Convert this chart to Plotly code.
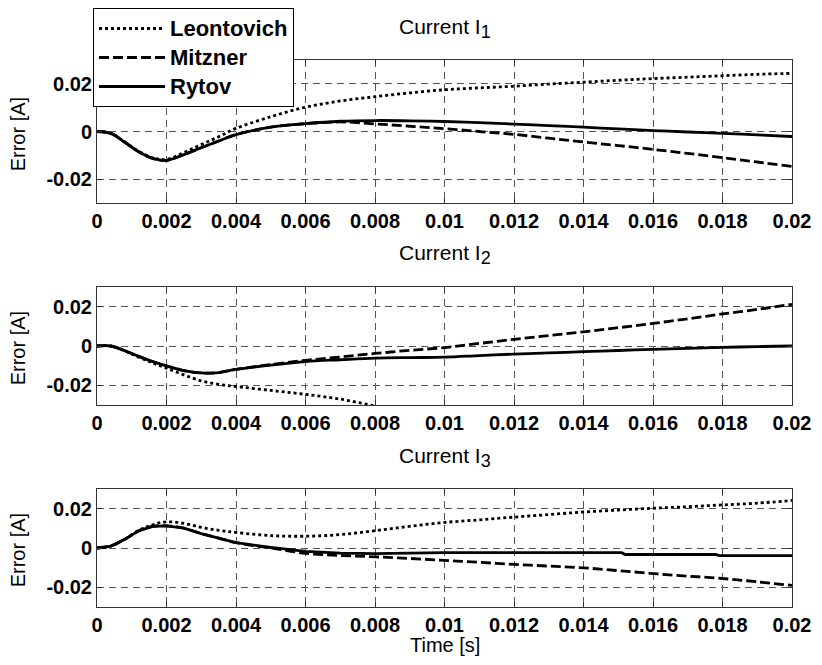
import plotly.graph_objects as go

# ---------------- data ----------------
T = [0, 0.0004, 0.0008, 0.0012, 0.0016, 0.002, 0.0025, 0.003, 0.0035, 0.004,
     0.005, 0.006, 0.007, 0.008, 0.009, 0.010, 0.011, 0.012, 0.013, 0.014,
     0.015, 0.016, 0.017, 0.018, 0.019, 0.020]

I1_leontovich = [0, -0.0008, -0.0044, -0.0083, -0.0110, -0.0117, -0.0088, -0.0055, -0.0022, 0.0013,
                 0.0062, 0.0102, 0.0128, 0.0146, 0.0162, 0.0175, 0.0183, 0.0190, 0.0199, 0.0207,
                 0.0215, 0.0222, 0.0228, 0.0234, 0.0240, 0.0244]
I1_mitzner = [0, -0.0008, -0.0045, -0.0085, -0.0113, -0.0121, -0.0097, -0.0068, -0.0040, -0.0013,
              0.0018, 0.0033, 0.0040, 0.0032, 0.0022, 0.0012, 0.0000, -0.0012, -0.0028, -0.0044,
              -0.0059, -0.0075, -0.0092, -0.0110, -0.0128, -0.0147]
I1_rytov = [0, -0.0008, -0.0045, -0.0085, -0.0113, -0.0121, -0.0097, -0.0068, -0.0040, -0.0013,
            0.0018, 0.0033, 0.0043, 0.0046, 0.0045, 0.0042, 0.0037, 0.0031, 0.0025, 0.0018,
            0.0011, 0.0004, -0.0002, -0.0008, -0.0014, -0.0021]

T2_leontovich = [0, 0.0004, 0.0008, 0.0012, 0.0016, 0.002, 0.0025, 0.003, 0.0035, 0.004,
                 0.005, 0.006, 0.007, 0.008]
I2_leontovich = [0, 0.0, -0.0025, -0.0057, -0.0086, -0.0113, -0.0147, -0.0177, -0.0195, -0.0206,
                 -0.0226, -0.0246, -0.0270, -0.0305]
I2_mitzner = [0, 0.0, -0.0024, -0.0053, -0.0079, -0.0101, -0.0125, -0.0137, -0.0135, -0.0119,
              -0.0094, -0.0073, -0.0056, -0.0038, -0.0022, -0.0008, 0.0013, 0.0034, 0.0053, 0.0072,
              0.0093, 0.0115, 0.0138, 0.0163, 0.0186, 0.0212]
I2_rytov = [0, 0.0, -0.0024, -0.0053, -0.0079, -0.0101, -0.0125, -0.0137, -0.0135, -0.0119,
            -0.0097, -0.0079, -0.0070, -0.0062, -0.0059, -0.0057, -0.0049, -0.0041, -0.0035, -0.0029,
            -0.0023, -0.0017, -0.0012, -0.0007, -0.0003, 0.0]

I3_leontovich = [0, 0.0010, 0.0045, 0.0090, 0.0118, 0.0133, 0.0125, 0.0105, 0.0090, 0.0079,
                 0.0063, 0.0060, 0.0068, 0.0088, 0.0110, 0.0130, 0.0143, 0.0157, 0.0170, 0.0183,
                 0.0193, 0.0202, 0.0210, 0.0219, 0.0228, 0.0242]
I3_mitzner = [0, 0.0010, 0.0044, 0.0087, 0.0110, 0.0113, 0.0101, 0.0073, 0.0050, 0.0027,
              0.0000, -0.0027, -0.0038, -0.0045, -0.0053, -0.0063, -0.0073, -0.0083, -0.0092, -0.0101,
              -0.0115, -0.0130, -0.0143, -0.0155, -0.0172, -0.0190]
T3_rytov = [0, 0.0004, 0.0008, 0.0012, 0.0016, 0.002, 0.0025, 0.003, 0.0035, 0.004,
            0.005, 0.006, 0.007, 0.008, 0.009, 0.010, 0.0151, 0.0152, 0.0178, 0.0179, 0.020]
I3_rytov = [0, 0.0010, 0.0044, 0.0087, 0.0110, 0.0113, 0.0101, 0.0073, 0.0050, 0.0027,
            0.0003, -0.0017, -0.0026, -0.0029, -0.0026, -0.0024, -0.0024, -0.0033, -0.0033, -0.0039, -0.0039]

series_names = ["Leontovich", "Mitzner", "Rytov"]
panel_titles = ["Current I<sub><span style='font-size:18px'>1</span></sub>",
                "Current I<sub><span style='font-size:18px'>2</span></sub>",
                "Current I<sub><span style='font-size:18px'>3</span></sub>"]
x_tickvals = [0, 0.002, 0.004, 0.006, 0.008, 0.010, 0.012, 0.014, 0.016, 0.018, 0.020]
x_ticktext = ["0", "0.002", "0.004", "0.006", "0.008", "0.01", "0.012", "0.014", "0.016", "0.018", "0.02"]
y_tickvals = [-0.02, 0, 0.02]
y_ticktext = ["-0.02", "0", "0.02"]
y_label = "Error [A]"
x_label = "Time [s]"

# ---------------- figure ----------------
FONT = "Arial, Liberation Sans, sans-serif"
W, H = 822, 665
dashes = {"Leontovich": "3px,3px", "Mitzner": "10px,4px", "Rytov": "solid"}
LW = 2.8

panels = [
    [(T, I1_leontovich), (T, I1_mitzner), (T, I1_rytov)],
    [(T2_leontovich, I2_leontovich), (T, I2_mitzner), (T, I2_rytov)],
    [(T, I3_leontovich), (T, I3_mitzner), (T3_rytov, I3_rytov)],
]

fig = go.Figure()
for p, traces in enumerate(panels):
    xa = "x" if p == 0 else f"x{p+1}"
    ya = "y" if p == 0 else f"y{p+1}"
    for name, (tx, ty) in zip(series_names, traces):
        shape = "linear" if (p == 2 and name == "Rytov") else "spline"
        fig.add_trace(go.Scatter(
            x=tx, y=ty, mode="lines",
            name=f"<span style='font-size:22px'>{name}</span>",
            xaxis=xa, yaxis=ya,
            line=dict(color="black", width=LW, dash=dashes[name], shape=shape),
            showlegend=(p == 0),
        ))

# pixel layout of the three axes boxes
boxes_px = [(60, 203), (287, 405), (489, 607)]
L_PX, R_PX = 97, 792

axis_common = dict(
    showline=True, linecolor="#333", linewidth=1, mirror="ticks",
    ticks="inside", ticklen=5, tickcolor="#333",
    showgrid=True, gridcolor="#555", gridwidth=1, griddash="7px,5px",
    zeroline=False,
    tickfont=dict(family=FONT, size=20, color="black", weight="bold"),
)

layout = dict(
    width=W, height=H,
    margin=dict(l=L_PX, r=W - R_PX, t=0, b=0),
    paper_bgcolor="white", plot_bgcolor="white",
    font=dict(family=FONT, color="black"),
    legend=dict(
        x=(93 - L_PX) / (R_PX - L_PX), y=1 - 8 / H, xanchor="left", yanchor="top",
        bgcolor="white", bordercolor="black", borderwidth=1,
        font=dict(family=FONT, size=20, color="black", weight="bold"),
        itemwidth=66, tracegroupgap=0,
    ),
    annotations=[],
)

for p, (top, bot) in enumerate(boxes_px):
    xk = "xaxis" if p == 0 else f"xaxis{p+1}"
    yk = "yaxis" if p == 0 else f"yaxis{p+1}"
    ya = "y" if p == 0 else f"y{p+1}"
    xa = "x" if p == 0 else f"x{p+1}"
    layout[xk] = dict(axis_common, domain=[0, 1], range=[0, 0.02], anchor=ya,
                      tickvals=x_tickvals, ticktext=x_ticktext)
    layout[yk] = dict(axis_common, domain=[1 - bot / H, 1 - top / H], range=[-0.03, 0.03],
                      anchor=xa, tickvals=y_tickvals, ticktext=y_ticktext)
    # panel title
    layout["annotations"].append(dict(
        text=panel_titles[p], xref="paper", yref="paper", x=0.5, y=1 - (top - 32) / H,
        xanchor="center", yanchor="middle", showarrow=False,
        font=dict(family=FONT, size=21, color="black"),
    ))
    # y label
    layout["annotations"].append(dict(
        text=y_label, xref="paper", yref=f"{ya} domain",
        x=(18 - L_PX) / (R_PX - L_PX), y=0.48, xanchor="center", yanchor="middle",
        textangle=-90, showarrow=False,
        font=dict(family=FONT, size=20, color="black"),
    ))

layout["annotations"].append(dict(
    text=x_label, xref="paper", yref="paper", x=0.5, y=1 - 645 / H,
    xanchor="center", yanchor="middle", showarrow=False,
    font=dict(family=FONT, size=20, color="black"),
))

fig.update_layout(**layout)
fig.write_html("out.html", config={"displayModeBar": False},
               post_script="document.body.style.margin='0px';document.body.style.padding='0px';")
